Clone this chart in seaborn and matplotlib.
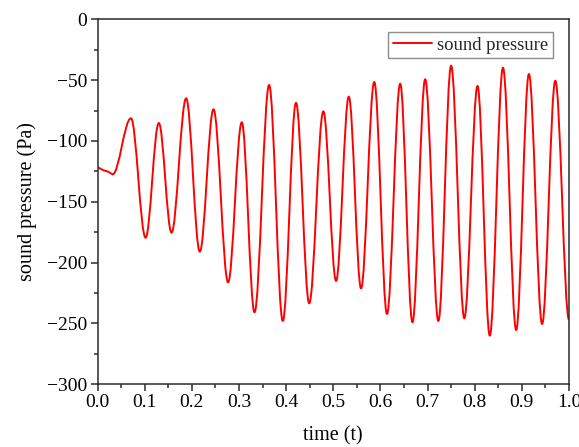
import matplotlib
matplotlib.use("Agg")
import matplotlib.pyplot as plt
from matplotlib.path import Path
from matplotlib.patches import PathPatch
from matplotlib.lines import Line2D
from matplotlib.ticker import MultipleLocator, FormatStrFormatter
import seaborn as sns

# slow drift before the oscillation builds up
t_drift = [0.0, 0.012, 0.023]
p_drift = [-121.5, -124.0, -125.3]

# turning points of the pressure oscillation
t_turn = [0.032, 0.071, 0.102, 0.130, 0.157, 0.188, 0.217, 0.246, 0.277, 0.306,
          0.333, 0.364, 0.393, 0.421, 0.449, 0.479, 0.506, 0.533, 0.559, 0.587,
          0.614, 0.642, 0.668, 0.695, 0.723, 0.750, 0.778, 0.806, 0.832, 0.860,
          0.888, 0.915, 0.943, 0.971, 1.000]
p_turn = [-127.5, -81.3, -179.6, -85.2, -175.4, -64.9, -191.1, -73.9, -216.3, -84.6,
          -241.0, -53.9, -248.1, -68.5, -233.6, -75.6, -215.2, -63.5, -221.3, -51.4,
          -242.4, -52.8, -249.2, -49.2, -248.1, -38.0, -245.9, -54.7, -260.2, -39.7,
          -255.6, -44.9, -250.6, -50.4, -247.0]

series_label = "sound pressure"
x_label = "time (t)"
y_label = "sound pressure (Pa)"
x_ticks = [0.0, 0.1, 0.2, 0.3, 0.4, 0.5, 0.6, 0.7, 0.8, 0.9, 1.0]
y_ticks = [0, -50, -100, -150, -200, -250, -300]

sns.set_theme(style="ticks")
plt.rcParams["font.family"] = ["Liberation Serif", "DejaVu Serif"]

edge = "#2b2b2b"
red = "#ff0000"

fig = plt.figure(figsize=(5.79, 4.47), dpi=100)
ax = fig.add_axes([0.1684, 0.1409, 0.8143, 0.8155])

# smooth curve: straight drift, then cubic segments with flat tangents at each turning point
verts = list(zip(t_drift, p_drift)) + [(t_turn[0], p_turn[0])]
codes = [Path.MOVETO] + [Path.LINETO] * len(t_drift)
for t0, p0, t1, p1 in zip(t_turn[:-1], p_turn[:-1], t_turn[1:], p_turn[1:]):
    dt = t1 - t0
    verts += [(t0 + dt * 0.36, p0), (t1 - dt * 0.36, p1), (t1, p1)]
    codes += [Path.CURVE4] * 3
ax.add_patch(PathPatch(Path(verts, codes), facecolor="none", edgecolor=red,
                       lw=1.4, transform=ax.transData, joinstyle="round"))

ax.set_xlim(0.0, 1.0)
ax.set_ylim(-300, 0)
ax.set_xticks(x_ticks)
ax.set_yticks(y_ticks)
ax.xaxis.set_minor_locator(MultipleLocator(0.05))
ax.yaxis.set_minor_locator(MultipleLocator(25))
ax.xaxis.set_major_formatter(FormatStrFormatter("%.1f"))

for side in ["left", "bottom", "top", "right"]:
    ax.spines[side].set_visible(True)
    ax.spines[side].set_color(edge)
    ax.spines[side].set_linewidth(1.1)

ax.tick_params(which="both", direction="out", color=edge, labelcolor="black",
               top=False, right=False, width=1.1)
ax.tick_params(which="major", length=5, labelsize=14, pad=2.5)
ax.tick_params(which="minor", length=3)

ax.set_xlabel(x_label, fontsize=14.5, labelpad=11, color="black")
ax.set_ylabel(y_label, fontsize=14.5, labelpad=7, color="black")
ax.grid(False)

handle = Line2D([], [], color=red, lw=1.4)
leg = ax.legend([handle], [series_label], loc="upper right",
                bbox_to_anchor=(0.966, 0.966), borderaxespad=0, fontsize=13.4,
                frameon=True, fancybox=False, framealpha=1, edgecolor="#8c8c8c",
                borderpad=0.25, handlelength=2.1, handletextpad=0.3)
leg.get_frame().set_linewidth(1.0)

fig.savefig("out.png", dpi=100)
